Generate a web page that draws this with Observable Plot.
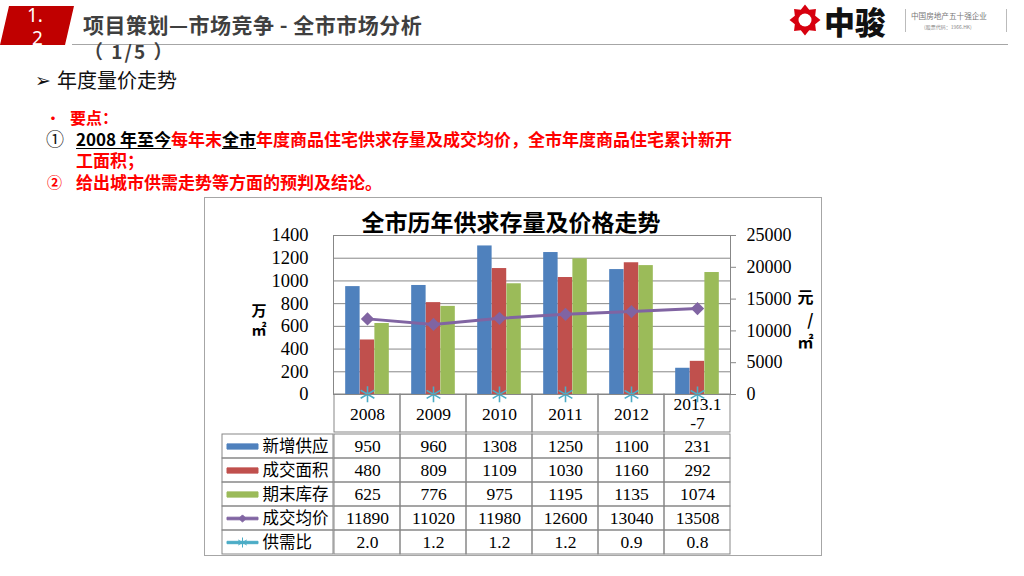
<!DOCTYPE html>
<html><head><meta charset="utf-8">
<script src="https://cdn.jsdelivr.net/npm/d3@7"></script>
<script src="https://cdn.jsdelivr.net/npm/@observablehq/plot@0.6"></script>
<style>
body{margin:0;width:1024px;height:576px;position:relative;background:#fff;overflow:hidden;font-family:"Noto Sans CJK SC","Noto Sans",sans-serif;}
.abs{position:absolute;white-space:nowrap;}
svg{overflow:visible;}
.red{color:#FF0000;}
u{text-decoration:underline;text-underline-offset:2px;color:#000;}
</style></head><body>
<script>
// ---------- data ----------
const years = ["2008", "2009", "2010", "2011", "2012", "2013.1-7"];
const yearLabels = ["2008", "2009", "2010", "2011", "2012", "2013.1\n-7"];
const newSupply = [950, 960, 1308, 1250, 1100, 231];
const dealArea = [480, 809, 1109, 1030, 1160, 292];
const stock = [625, 776, 975, 1195, 1135, 1074];
const avgPrice = [11890, 11020, 11980, 12600, 13040, 13508];
const ratio = [2.0, 1.2, 1.2, 1.2, 0.9, 0.8];
const ratioLabels = ["2.0", "1.2", "1.2", "1.2", "0.9", "0.8"];
const leftTicks = [0, 200, 400, 600, 800, 1000, 1200, 1400];
const rightTicks = [0, 5000, 10000, 15000, 20000, 25000];
const seriesNames = ["新增供应", "成交面积", "期末库存", "成交均价", "供需比"];
const colors = {blue: "#4F81BD", red: "#C0504D", green: "#9BBB59", purple: "#8064A2", cyan: "#4BACC6"};

const page = document.body;
function put(html, left, cy, lh, style) {
  const d = document.createElement("div");
  d.className = "abs";
  d.style.cssText = `left:${left}px;top:${cy - lh / 2}px;line-height:${lh}px;` + (style || "");
  d.innerHTML = html;
  page.appendChild(d);
  return d;
}
function box(left, top, w, h, style) {
  const d = document.createElement("div");
  d.style.cssText = `position:absolute;left:${left}px;top:${top}px;width:${w}px;height:${h}px;` + style;
  page.appendChild(d);
  return d;
}

// ---------- header ----------
const hdr = document.createElementNS("http://www.w3.org/2000/svg", "svg");
hdr.setAttribute("width", 80); hdr.setAttribute("height", 50);
hdr.style.cssText = "position:absolute;left:0;top:0;";
hdr.innerHTML = `<polygon points="9,6 74,6 65,45 0,45" fill="#C00000"/>`;
page.appendChild(hdr);
box(72, 44, 936, 1, "background:#A6A6A6;");
put("1.", 27, 15, 22, "color:#fff;font-size:19px;font-family:'Noto Sans',sans-serif;");
put("2", 32, 38, 22, "color:#fff;font-size:19px;font-family:'Noto Sans',sans-serif;");
put("项目策划—市场竞争 - 全市市场分析", 83, 24, 26, "font-size:21px;font-weight:700;color:#3F3F3F;letter-spacing:0.5px;");
put("（ 1/5 ）", 84, 51, 24, "font-size:19px;font-weight:700;color:#3F3F3F;letter-spacing:2px;");

// logo
const logo = document.createElementNS("http://www.w3.org/2000/svg", "svg");
logo.setAttribute("width", 44); logo.setAttribute("height", 40);
logo.style.cssText = "position:absolute;left:783px;top:0;";
(function () {
  const cx = 22, cy = 20, n = 8, ro = 15.5, ri = 11;
  let pts = [];
  for (let i = 0; i < n * 2; i++) {
    const a = Math.PI * i / n - Math.PI / 2;
    const r = i % 2 === 0 ? ro : ri;
    pts.push((cx + r * Math.cos(a)).toFixed(2) + "," + (cy + r * Math.sin(a)).toFixed(2));
  }
  logo.innerHTML = `<polygon points="${pts.join(" ")}" fill="#D7000F"/>
  <circle cx="${cx}" cy="${cy}" r="6.5" fill="#fff"/>`;
})();
page.appendChild(logo);
box(905, 9, 1, 23, "background:#BBBBBB;");
box(1006, 9, 1, 23, "background:#BBBBBB;");
put("中骏", 824, 21, 36, "font-size:31px;font-weight:900;color:#111;");
put("中国房地产五十强企业", 911, 16, 10, "font-size:7.6px;color:#777;");
put("(股票代码：1966.HK)", 924, 27, 8, "font-size:5px;color:#888;");

// subtitle + bullets
put("➢", 35, 80, 24, "font-size:19px;color:#111;font-family:'DejaVu Sans',sans-serif;");
put("年度量价走势", 57, 80, 26, "font-size:20px;color:#111;");
put("•", 46, 117, 18, "font-size:14px;color:#FF0000;font-weight:700;");
put("要点：", 70, 117, 18, "font-size:16px;color:#FF0000;font-weight:700;");
put("①", 46, 138, 19, "font-size:18px;color:#111;");
put(`<u>2008 年至今</u><span class="red">每年末</span><u>全市</u><span class="red">年度商品住宅供求存量及成交均价，全市年度商品住宅累计新开</span>`, 76, 138, 19, "font-size:17px;font-weight:700;color:#000;");
put("工面积；", 76, 159, 19, "font-size:17px;font-weight:700;color:#FF0000;");
put("②", 47, 181, 19, "font-size:15px;font-weight:700;color:#FF0000;");
put("给出城市供需走势等方面的预判及结论。", 76, 181, 19, "font-size:17px;font-weight:700;color:#FF0000;");

// ---------- chart frame ----------
const FX = 204, FY = 197, W = 618, FH = 359;
box(FX, FY, W, FH, "box-sizing:border-box;border:1px solid #A6A6A6;");
put("全市历年供求存量及价格走势", 0, 221, 30, "width:1022px;text-align:center;font-size:23px;font-weight:700;color:#000;");

const ML = 129, MR = 92;
const serif = "'Liberation Serif','Noto Sans CJK SC',serif";
const baseStyle = {background: "transparent", overflow: "visible", fontFamily: serif, fontSize: "18px", color: "#000"};
const toArea = v => v * 1400 / 25000;
const bandW = (W - ML - MR) / years.length;
const barW = 14.6;
const inset = (bandW - barW) / 2;
const grid = "#878787";

const bars = [[newSupply, colors.blue, -1], [dealArea, colors.red, 0], [stock, colors.green, 1]].map(([vals, c, k]) =>
  Plot.barY(years, {x: d => d, y: (d, i) => vals[i], fill: c, insetLeft: inset, insetRight: inset, dx: k * barW}));

const chart = Plot.plot({
  width: W, height: 209, marginTop: 38, marginBottom: 12, marginLeft: ML, marginRight: MR,
  x: {type: "band", domain: years, padding: 0, axis: null},
  y: {domain: [0, 1400], axis: null},
  style: baseStyle,
  marks: [
    Plot.ruleY(leftTicks, {stroke: grid, strokeOpacity: 1}),
    ...bars,
    Plot.line(years, {x: d => d, y: (d, i) => toArea(avgPrice[i]), stroke: colors.purple, strokeWidth: 3}),
    Plot.dot(years, {x: d => d, y: (d, i) => toArea(avgPrice[i]), symbol: "diamond2", r: 6, fill: colors.purple, stroke: "none"}),
    Plot.dot(years, {x: d => d, y: (d, i) => ratio[i], symbol: "asterisk", r: 7.5, stroke: colors.cyan, strokeWidth: 1.6, fill: "none"}),
    Plot.frame({stroke: grid}),
    Plot.axisY({ticks: leftTicks, anchor: "left", tickSize: 0, tickPadding: 25, label: null, fontSize: 18.5, tickFormat: v => String(v)}),
    Plot.axisY({ticks: rightTicks.map(toArea), anchor: "right", tickSize: 5, tickPadding: 11, label: null, fontSize: 18,
      stroke: grid, tickFormat: v => String(Math.round(v * 25000 / 1400))}),
    Plot.text(["万\n㎡"], {frameAnchor: "left", dx: -82, dy: 4.5, fontSize: 15, fontWeight: 700, lineHeight: 1.25, fontFamily: "'Noto Sans CJK SC',sans-serif"}),
    Plot.text(["元\n/\n㎡"], {frameAnchor: "right", dx: 83, dy: 3.5, fontSize: 16, fontWeight: 700, lineHeight: 1.4, fontFamily: "'Noto Sans CJK SC',sans-serif"})
  ]
});

// header row of table (years)
const headerRow = Plot.plot({
  width: W, height: 38, marginTop: 0, marginBottom: 0, marginLeft: ML, marginRight: MR,
  x: {type: "band", domain: years, padding: 0, axis: null},
  style: baseStyle,
  marks: [
    Plot.cell(years, {x: d => d, fill: "none", stroke: grid, inset: 0}),
    Plot.text(years, {x: d => d, text: (d, i) => yearLabels[i], fontSize: 17.5, lineHeight: 1.1})
  ]
});

// table body
const tableValues = [newSupply, dealArea, stock, avgPrice, ratioLabels];
const cells = seriesNames.flatMap((s, r) => years.map((y, c) => ({row: s, year: y, label: String(tableValues[r][c])})));
const body = Plot.plot({
  width: W, height: 123, marginTop: 0, marginBottom: 0, marginLeft: ML, marginRight: MR,
  x: {type: "band", domain: years, padding: 0, axis: null},
  y: {type: "band", domain: seriesNames, padding: 0, axis: null},
  style: baseStyle,
  marks: [
    Plot.cell(cells, {x: "year", y: "row", fill: "none", stroke: grid, inset: 0}),
    Plot.text(cells, {x: "year", y: "row", text: "label", fontSize: 17.5})
  ]
});

// legend column
const rectSym = {draw(ctx) { ctx.rect(-15.5, -2.6, 31, 5.2); }};
const priceSym = {draw(ctx) {
  ctx.rect(-15.5, -1.3, 31, 2.6);
  ctx.moveTo(0, -3.6); ctx.lineTo(3.6, 0); ctx.lineTo(0, 3.6); ctx.lineTo(-3.6, 0); ctx.closePath();
}};
const ratioSym = {draw(ctx) {
  ctx.rect(-15.5, -1.2, 31, 2.4);
  ctx.moveTo(0, -5); ctx.lineTo(0, 5);
  ctx.moveTo(-4.3, -2.5); ctx.lineTo(4.3, 2.5);
  ctx.moveTo(-4.3, 2.5); ctx.lineTo(4.3, -2.5);
}};
const swatches = [
  [rectSym, colors.blue], [rectSym, colors.red], [rectSym, colors.green],
  [priceSym, colors.purple], [ratioSym, colors.cyan]
];
const legendCol = Plot.plot({
  width: 111, height: 123, margin: 0,
  y: {type: "band", domain: seriesNames, padding: 0, axis: null},
  style: baseStyle,
  marks: [
    Plot.cell(seriesNames, {y: d => d, fill: "none", stroke: grid, inset: 0}),
    ...swatches.map(([sym, c], i) => Plot.dot([seriesNames[i]], {y: d => d, frameAnchor: "left", dx: 20, symbol: sym, r: 5, fill: c, stroke: c, strokeWidth: 1})),
    Plot.text(seriesNames, {y: d => d, frameAnchor: "left", dx: 40, textAnchor: "start", fontSize: 16.5, fontFamily: "'Noto Sans CJK SC',sans-serif"})
  ]
});

function place(el, left, top) {
  el.style.position = "absolute";
  el.style.left = left + "px";
  el.style.top = top + "px";
  page.appendChild(el);
}
place(headerRow, FX, 394);
place(body, FX, 432);
place(legendCol, 222, 432);
place(chart, FX, FY);
</script>
</body></html>
